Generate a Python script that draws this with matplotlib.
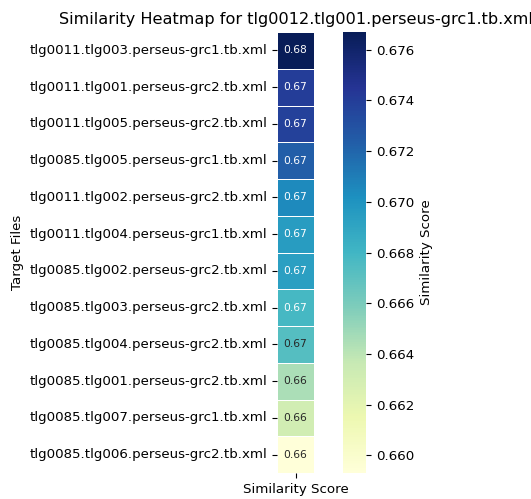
import matplotlib
matplotlib.use("Agg")
import matplotlib.pyplot as plt
import seaborn as sns
import pandas as pd

# target files, sorted by similarity to tlg0012.tlg001
targets = [
    "tlg0011.tlg003.perseus-grc1.tb.xml",
    "tlg0011.tlg001.perseus-grc2.tb.xml",
    "tlg0011.tlg005.perseus-grc2.tb.xml",
    "tlg0085.tlg005.perseus-grc1.tb.xml",
    "tlg0011.tlg002.perseus-grc2.tb.xml",
    "tlg0011.tlg004.perseus-grc1.tb.xml",
    "tlg0085.tlg002.perseus-grc2.tb.xml",
    "tlg0085.tlg003.perseus-grc2.tb.xml",
    "tlg0085.tlg004.perseus-grc2.tb.xml",
    "tlg0085.tlg001.perseus-grc2.tb.xml",
    "tlg0085.tlg007.perseus-grc1.tb.xml",
    "tlg0085.tlg006.perseus-grc2.tb.xml",
]
scores = [0.6767, 0.6740, 0.6738, 0.6723, 0.6705, 0.6695, 0.6693,
          0.6678, 0.6673, 0.6645, 0.6631, 0.6593]

df = pd.DataFrame({"Similarity Score": scores}, index=targets)

plt.rcParams["font.size"] = 9.67

fig = plt.figure(figsize=(5.31, 4.99), dpi=100)
ax = fig.add_axes([277 / 531, 1 - 473 / 499, 37 / 531, 441 / 499])
cax = fig.add_axes([343 / 531, 1 - 473 / 499, 23 / 531, 441 / 499])

sns.heatmap(df, ax=ax, cbar_ax=cax, cmap="YlGnBu", annot=True, fmt=".2f",
            annot_kws={"size": 7.7}, linewidths=0.5, linecolor="white",
            cbar_kws={"label": "Similarity Score"})

ax.set_title("Similarity Heatmap for tlg0012.tlg001.perseus-grc1.tb.xml", fontsize=11.6)
ax.set_ylabel("Target Files")
ax.set_xlabel("")
ax.tick_params(axis="y", rotation=0)
cax.set_yticks([0.660, 0.662, 0.664, 0.666, 0.668, 0.670, 0.672, 0.674, 0.676])

plt.savefig("out.png", dpi=100)
